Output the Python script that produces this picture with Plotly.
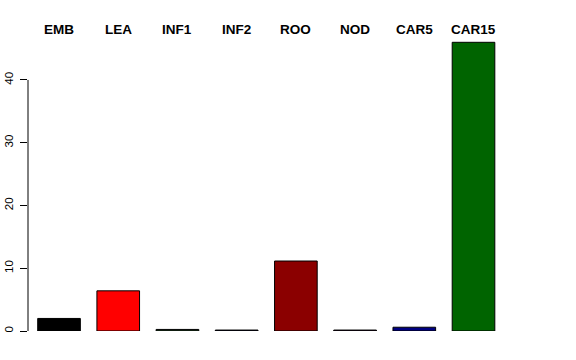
import plotly.graph_objects as go

categories = ["EMB", "LEA", "INF1", "INF2", "ROO", "NOD", "CAR5", "CAR15"]
values = [2.0, 6.4, 0.25, 0.15, 11.15, 0.15, 0.6, 46.0]
colors = ["#000000", "#FF0000", "#1E3A1E", "#10102A", "#8B0000", "#2A102A", "#000080", "#006400"]
y_ticks = [0, 10, 20, 30, 40]

positions = list(range(len(categories)))

fig = go.Figure()
fig.add_trace(go.Bar(
    x=positions, y=values,
    marker=dict(color=colors, line=dict(color="black", width=1)),
    width=0.72, showlegend=False, hoverinfo="skip",
))

for p, c in zip(positions, categories):
    fig.add_annotation(x=p, y=1.005, xref="x", yref="paper", text="<b>%s</b>" % c,
                       showarrow=False, yanchor="middle", xanchor="center",
                       font=dict(family="Liberation Sans, Arial, sans-serif", size=13.5, color="black"))

fig.add_shape(type="line", xref="paper", yref="y", x0=0, x1=0, y0=y_ticks[0], y1=y_ticks[-1],
              line=dict(color="black", width=1))

fig.update_layout(
    width=576, height=360,
    margin=dict(l=28, r=72, t=31, b=29, pad=0, autoexpand=False),
    paper_bgcolor="white", plot_bgcolor="white",
    xaxis=dict(range=[-0.524, 7.515], showgrid=False, zeroline=False, showline=False,
               showticklabels=False, ticks="", automargin=False),
    yaxis=dict(range=[0, 47.8], tickvals=y_ticks, ticktext=[str(v) for v in y_ticks],
               showgrid=False, zeroline=False, showline=False, automargin=False,
               ticks="outside", ticklen=7, tickcolor="black", tickwidth=1,
               tickangle=-90, ticklabelstandoff=2,
               tickfont=dict(family="Liberation Sans, Arial, sans-serif", size=11.5, color="black")),
    bargap=0.28,
)

fig.write_html("out.html")
